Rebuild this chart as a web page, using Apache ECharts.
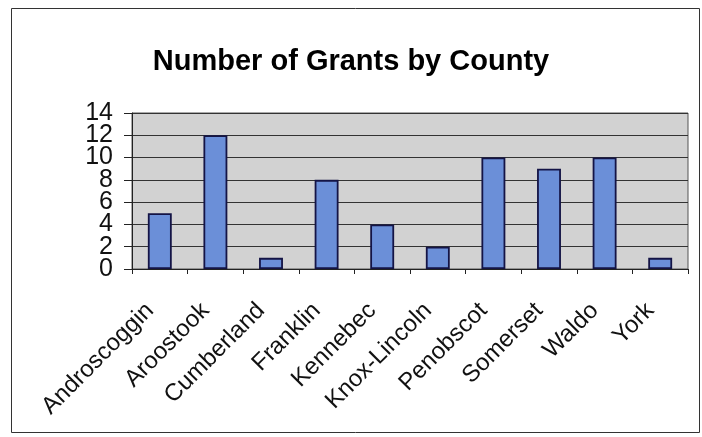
<!DOCTYPE html>
<html>
<head>
<meta charset="utf-8">
<script src="https://cdn.jsdelivr.net/npm/echarts@6/dist/echarts.min.js"></script>
<style>html,body{margin:0;padding:0;background:#fff}#c{width:702px;height:437px}</style>
</head>
<body>
<div id="c"></div>
<script>
const categories = ['Androscoggin','Aroostook','Cumberland','Franklin','Kennebec','Knox-Lincoln','Penobscot','Somerset','Waldo','York'];
const grants = [5, 12, 1, 8, 4, 2, 10, 9, 10, 1];
const yTicks = [0, 2, 4, 6, 8, 10, 12, 14];

const chart = echarts.init(document.getElementById('c'), null, {renderer: 'canvas'});
const F = '"Liberation Sans", Arial, sans-serif';
const yMin = yTicks[0], yMax = yTicks[yTicks.length - 1];
// two overlaid value axes share the scale; each prints every other tick label
function yAxisDef(showEven, main) {
  return {
    type: 'value', position: 'left', offset: 0,
    min: yMin, max: yMax, interval: 2,
    axisLine: {show: main, lineStyle: {color: '#222', width: 1}},
    axisTick: {show: main, length: 8, lineStyle: {color: '#222'}},
    axisLabel: {
      margin: 19, showMinLabel: true, showMaxLabel: true,
      fontFamily: F, fontSize: 25, color: '#111',
      formatter: v => ((yTicks.indexOf(v) % 2 === 0) === showEven ? String(v) : '')
    },
    splitLine: {show: main, lineStyle: {color: '#333', width: 1}}
  };
}
chart.setOption({
  animation: false,
  backgroundColor: '#ffffff',
  graphic: [{
    type: 'rect', left: 9, top: 6, silent: true,
    shape: {width: 688, height: 424},
    style: {fill: 'none', stroke: '#333', lineWidth: 1}
  }],
  title: {
    text: 'Number of Grants by County',
    left: 'center', top: 42,
    textStyle: {fontFamily: F, fontWeight: 'bold', fontSize: 29, color: '#000'}
  },
  grid: {left: 132, right: 14, top: 113, bottom: 168, show: true, backgroundColor: '#d2d2d2', borderColor: '#555', borderWidth: 1},
  xAxis: {
    type: 'category',
    data: categories,
    boundaryGap: true,
    axisLine: {show: true, lineStyle: {color: '#222', width: 1}},
    axisTick: {show: true, length: 5, alignWithLabel: false, lineStyle: {color: '#222'}},
    axisLabel: {rotate: 45, margin: 28, padding: [0, 14, 0, 0], interval: 0, hideOverlap: false, fontFamily: F, fontSize: 24, color: '#111'}
  },
  yAxis: [yAxisDef(true, true), yAxisDef(false, false)],
  series: [{
    type: 'bar',
    data: grants,
    yAxisIndex: 0,
    barWidth: '43%',
    itemStyle: {color: '#6b8fd8', borderColor: '#141446', borderWidth: 1.8}
  }]
});
</script>
</body>
</html>
